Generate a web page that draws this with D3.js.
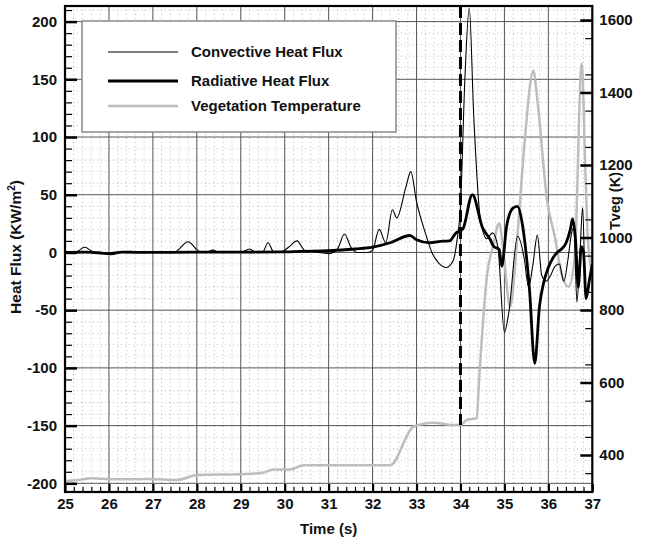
<!DOCTYPE html>
<html>
<head>
<meta charset="utf-8">
<script src="https://cdn.jsdelivr.net/npm/d3@7"></script>
<style>
  body { margin: 0; background: #fff; }
  text { font-family: "Liberation Sans", Arial, sans-serif; font-weight: bold; fill: #111; }
</style>
</head>
<body>
<div class="chart"></div>
<script>
const svgWidth = 661,
  svgHeight = 543;

// data: [time (s), value]
const convective = [
  [25.0, 0], [25.25, 0.5], [25.45, 4.5], [25.65, 0.5], [25.85, 0], [26.05, -2], [26.25, 0],
  [26.5, 1], [26.7, 0], [27.0, 0], [27.3, 0], [27.5, 0.5], [27.8, 9.3], [28.05, 1], [28.2, 0],
  [28.37, 2], [28.5, 0], [28.8, 0.5], [29.0, 0], [29.2, 3], [29.35, 0], [29.5, 0.5], [29.62, 8.4],
  [29.75, 0.5], [29.95, 1], [30.1, 5], [30.28, 10], [30.45, 2], [30.7, 0.5], [31.0, -1], [31.2, 3],
  [31.36, 16], [31.5, 5], [31.65, 0], [31.9, 0], [32.0, 2], [32.15, 20], [32.3, 8.4], [32.45, 37],
  [32.55, 30], [32.76, 57], [32.87, 70], [33.0, 44], [33.2, 17], [33.35, 0], [33.5, -9],
  [33.68, -13], [33.83, -7.5], [33.92, 10], [34.0, 40], [34.1, 150], [34.2, 212], [34.3, 120],
  [34.45, 30], [34.6, 12], [34.73, 17], [34.85, 5], [35.0, -69], [35.1, -52], [35.3, 14],
  [35.45, -5], [35.55, -30], [35.65, -10], [35.75, 15], [35.85, -20], [35.95, -25], [36.05, -20],
  [36.15, -12], [36.25, -10], [36.35, -25], [36.45, -5], [36.52, 15], [36.58, 22], [36.65, -43],
  [36.72, 0], [36.78, 39], [36.85, -40], [36.93, -25], [37.0, -12]
];

const radiative = [
  [25.0, 0], [25.5, 0.3], [26.0, -1], [26.3, 0.3], [27.0, 0], [28.0, 0.3], [29.0, 0.3],
  [30.0, 0.5], [30.35, 1], [31.0, 1.5], [31.6, 3], [32.0, 4.6], [32.4, 8.4], [32.85, 14.7],
  [33.0, 11], [33.3, 8.4], [33.6, 9.8], [33.75, 10], [33.9, 17], [34.05, 20], [34.27, 50],
  [34.5, 21.6], [34.68, 11], [34.75, 5.5], [34.88, 2.6], [34.94, -12], [35.05, 22.8],
  [35.2, 38.7], [35.3, 40], [35.39, 28.6], [35.57, -32], [35.69, -96], [35.8, -46], [35.9, -25],
  [36.0, -13], [36.1, -5], [36.2, 0], [36.3, 3], [36.4, 8], [36.5, 20], [36.55, 29],
  [36.62, 10], [36.68, -30], [36.75, 5], [36.8, 0], [36.86, -40], [36.93, -25], [37.0, -10]
];

const vegTemp = [
  [25.0, 328], [25.3, 331], [25.6, 336], [26.1, 333], [26.9, 334], [27.55, 331], [28.0, 345],
  [29.0, 347], [29.5, 351], [29.74, 360], [30.12, 360], [30.43, 372], [32.4, 372], [32.93, 478],
  [33.39, 489], [33.78, 483], [34.0, 483], [34.16, 498], [34.37, 501], [34.42, 600], [34.6, 892],
  [34.75, 980], [34.88, 1039], [34.98, 957], [35.13, 809], [35.3, 1012], [35.45, 1250],
  [35.66, 1460], [35.75, 1379], [35.97, 1103], [36.15, 1000], [36.3, 900], [36.46, 864],
  [36.6, 950], [36.76, 1480], [36.84, 1195], [36.9, 993], [37.0, 900]
];

const markerTime = 34.0;

const xTicks = d3.range(25, 38, 1);
const yLeftTicks = d3.range(-200, 201, 50);
const yRightTicks = d3.range(400, 1601, 200);

const legendItems = ['Convective Heat Flux', 'Radiative Heat Flux', 'Vegetation Temperature'];

const svg = d3.select('.chart')
  .append('svg')
  .attr('width', svgWidth)
  .attr('height', svgHeight);

const plotLeft = 65, plotRight = 592.3, plotTop = 6, plotBottom = 492;

const xScale = d3.scaleLinear().domain([25, 37]).range([plotLeft, plotRight]);
const yScale = d3.scaleLinear().domain([-207.5, 213.5]).range([plotBottom, plotTop]);
const yRight = d3.scaleLinear().domain([298, 1638.6]).range([plotBottom, plotTop]);

// minor dotted grid
const xMinor = d3.range(25, 37.001, 0.2).filter(d => Math.abs(d - Math.round(d)) > 0.01);
const yMinor = d3.range(-200, 211, 10).filter(d => d % 50 !== 0);

svg.append('g')
  .selectAll('line')
  .data(xMinor)
  .join('line')
  .attr('x1', d => xScale(d)).attr('x2', d => xScale(d))
  .attr('y1', plotTop).attr('y2', plotBottom)
  .attr('stroke', '#bbb')
  .attr('stroke-dasharray', '1,3');

svg.append('g')
  .selectAll('line')
  .data(yMinor)
  .join('line')
  .attr('x1', plotLeft).attr('x2', plotRight)
  .attr('y1', d => yScale(d)).attr('y2', d => yScale(d))
  .attr('stroke', '#bbb')
  .attr('stroke-dasharray', '1,3');

// major grid
svg.append('g')
  .selectAll('line')
  .data(xTicks.slice(1, -1))
  .join('line')
  .attr('x1', d => xScale(d)).attr('x2', d => xScale(d))
  .attr('y1', plotTop).attr('y2', plotBottom)
  .attr('stroke', '#555')
  .attr('stroke-width', 1);

svg.append('g')
  .selectAll('line')
  .data(yLeftTicks)
  .join('line')
  .attr('x1', plotLeft).attr('x2', plotRight)
  .attr('y1', d => yScale(d)).attr('y2', d => yScale(d))
  .attr('stroke', '#555')
  .attr('stroke-width', 1);

svg.append('clipPath')
  .attr('id', 'plot')
  .append('rect')
  .attr('x', plotLeft).attr('y', plotTop)
  .attr('width', plotRight - plotLeft).attr('height', plotBottom - plotTop);

const lineL = d3.line().x(d => xScale(d[0])).y(d => yScale(d[1])).curve(d3.curveMonotoneX);
const lineR = d3.line().x(d => xScale(d[0])).y(d => yRight(d[1])).curve(d3.curveMonotoneX);

const plot = svg.append('g').attr('clip-path', 'url(#plot)');

plot.append('path')
  .attr('d', lineR(vegTemp))
  .attr('fill', 'none')
  .attr('stroke', '#bdbdbd')
  .attr('stroke-width', 2.5);

plot.append('path')
  .attr('d', lineL(radiative))
  .attr('fill', 'none')
  .attr('stroke', '#000')
  .attr('stroke-width', 2.8);

plot.append('path')
  .attr('d', lineL(convective))
  .attr('fill', 'none')
  .attr('stroke', '#000')
  .attr('stroke-width', 1.1);

// dashed marker line at t = 34 s, down to the temperature plateau
svg.append('line')
  .attr('x1', xScale(markerTime)).attr('x2', xScale(markerTime))
  .attr('y1', plotTop).attr('y2', yRight(483))
  .attr('stroke', '#000')
  .attr('stroke-width', 3)
  .attr('stroke-dasharray', '12,5');

// legend
const legend = svg.append('g');
legend.append('rect')
  .attr('x', 82).attr('y', 21)
  .attr('width', 314).attr('height', 111)
  .attr('fill', '#fff')
  .attr('stroke', '#888')
  .attr('stroke-width', 1.5);

const legendStyle = [
  { y: 52, color: '#000', w: 1.2 },
  { y: 81, color: '#000', w: 2.8 },
  { y: 106, color: '#bdbdbd', w: 2.5 }
];

legend.selectAll('line')
  .data(legendItems)
  .join('line')
  .attr('x1', 108).attr('x2', 178)
  .attr('y1', (d, i) => legendStyle[i].y).attr('y2', (d, i) => legendStyle[i].y)
  .attr('stroke', (d, i) => legendStyle[i].color)
  .attr('stroke-width', (d, i) => legendStyle[i].w);

legend.selectAll('text')
  .data(legendItems)
  .join('text')
  .attr('x', 191)
  .attr('y', (d, i) => legendStyle[i].y + 5)
  .style('font-size', '15px')
  .text(d => d);

// axes
const plain = d => String(d);
const xAxis = d3.axisBottom(xScale).tickValues(xTicks).tickSize(-8).tickPadding(6).tickFormat(plain);
const xMinorAxis = d3.axisBottom(xScale).tickValues(xMinor).tickSize(-5).tickFormat('');
const yAxis = d3.axisLeft(yScale).tickValues(yLeftTicks).tickSize(-12).tickPadding(8).tickFormat(plain);
const yMinorAxis = d3.axisLeft(yScale).tickValues(yMinor).tickSize(-7).tickFormat('');
const yRightAxis = d3.axisRight(yRight).tickValues(yRightTicks).tickSize(-12).tickPadding(7).tickFormat(plain);
const yRightMinor = d3.axisRight(yRight).tickValues(d3.range(350, 1601, 100)).tickSize(-7).tickFormat('');

function styleAxis(g, width) {
  g.select('.domain').remove();
  g.selectAll('line').attr('stroke', '#000').attr('stroke-width', width);
  g.selectAll('text').style('font-size', '15px').style('font-family', '"Liberation Sans", Arial, sans-serif')
    .style('font-weight', 'bold').attr('fill', '#111');
}

svg.append('g').attr('transform', `translate(0, ${plotBottom})`).call(xMinorAxis).call(styleAxis, 1.2);
svg.append('g').attr('transform', `translate(0, ${plotBottom})`).call(xAxis).call(styleAxis, 2.2);
svg.append('g').attr('transform', `translate(${plotLeft}, 0)`).call(yMinorAxis).call(styleAxis, 1.2);
svg.append('g').attr('transform', `translate(${plotLeft}, 0)`).call(yAxis).call(styleAxis, 2.5);
svg.append('g').attr('transform', `translate(${plotRight}, 0)`).call(yRightMinor).call(styleAxis, 1.2);
svg.append('g').attr('transform', `translate(${plotRight}, 0)`).call(yRightAxis).call(styleAxis, 2.5);

// frame
svg.append('rect')
  .attr('x', plotLeft).attr('y', plotTop)
  .attr('width', plotRight - plotLeft).attr('height', plotBottom - plotTop)
  .attr('fill', 'none')
  .attr('stroke', '#000')
  .attr('stroke-width', 2.2);

// titles
svg.append('text')
  .attr('x', (plotLeft + plotRight) / 2)
  .attr('y', 534)
  .attr('text-anchor', 'middle')
  .style('font-size', '15px')
  .text('Time (s)');

const yTitle = svg.append('text')
  .attr('transform', 'translate(21, 247) rotate(-90)')
  .attr('text-anchor', 'middle')
  .style('font-size', '15.5px');
yTitle.append('tspan').text('Heat Flux (KW/m');
yTitle.append('tspan').attr('dy', -6).style('font-size', '10px').text('2');
yTitle.append('tspan').attr('dy', 6).text(')');

svg.append('text')
  .attr('transform', 'translate(620, 201) rotate(-90)')
  .attr('text-anchor', 'middle')
  .style('font-size', '14.5px')
  .text('Tveg (K)');
</script>
</body>
</html>
